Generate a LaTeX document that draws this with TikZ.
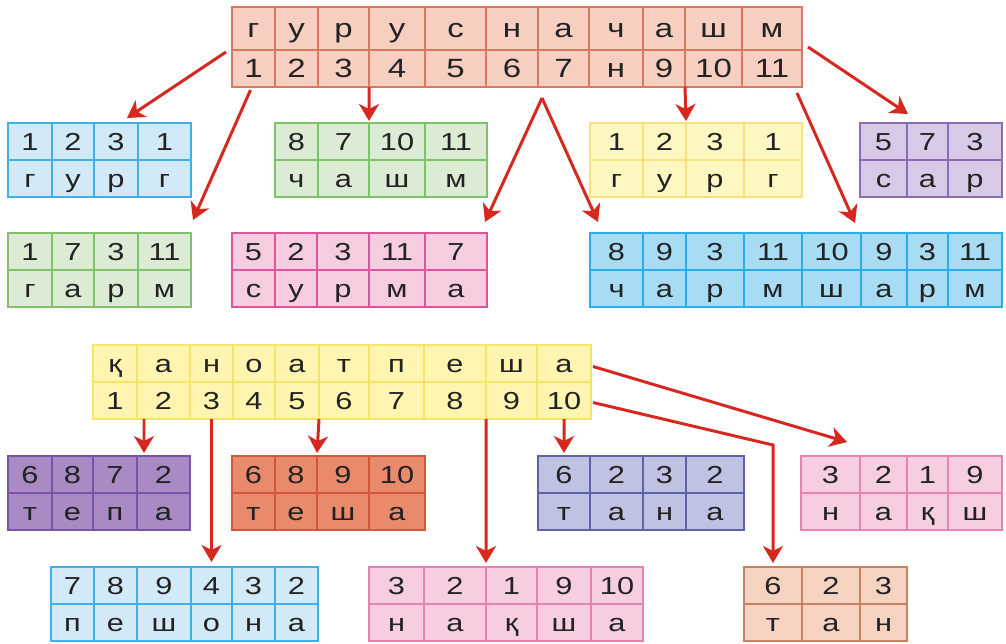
\documentclass[tikz,border=0pt]{standalone}
\usepackage{fontspec}
\setmainfont{Liberation Sans}[FakeStretch=1.25]
\usetikzlibrary{arrows.meta}

\definecolor{topfill}{HTML}{F6CFC0}\definecolor{topline}{HTML}{DA7763}
\definecolor{lblue}{HTML}{D2EAF8}\definecolor{lblueline}{HTML}{3FB1E6}
\definecolor{lgreen}{HTML}{DCEBD4}\definecolor{lgreenline}{HTML}{7CC36A}
\definecolor{lyellow}{HTML}{FFF7C2}\definecolor{lyellowline}{HTML}{F5E27A}
\definecolor{lpurple}{HTML}{D7CAE6}\definecolor{lpurpleline}{HTML}{8E6BB5}
\definecolor{lpink}{HTML}{F6CCE0}\definecolor{lpinkline}{HTML}{E0559A}
\definecolor{blue}{HTML}{A8DBF4}\definecolor{blueline}{HTML}{2BAEE6}
\definecolor{yellow}{HTML}{FFF4B0}\definecolor{yellowline}{HTML}{F8E36B}
\definecolor{dpurple}{HTML}{A98AC4}\definecolor{dpurpleline}{HTML}{7A52A8}
\definecolor{orange}{HTML}{E98A6C}\definecolor{orangeline}{HTML}{D2583A}
\definecolor{slate}{HTML}{BFC2E2}\definecolor{slateline}{HTML}{5D63A8}
\definecolor{pink}{HTML}{F7CEE1}\definecolor{pinkline}{HTML}{E783B3}
\definecolor{peach}{HTML}{F6D3C0}\definecolor{peachline}{HTML}{C98062}
\definecolor{textgray}{HTML}{222222}
\definecolor{arrowred}{HTML}{D7281F}

\tikzset{
  cell/.style={rectangle, inner sep=0pt, outer sep=0pt, line width=0.8pt,
    minimum height=37*0.02cm, text height=10pt, text depth=0pt,
    text=textgray, font=\fontsize{14}{16}\selectfont},
  arr/.style={draw=arrowred, line width=1.7pt,
    -{Stealth[length=0.34cm, width=0.4cm, inset=0.1cm]}}
}

% [top row options]{name}{left}{top}{fill}{line}{width/top/bottom, ...}
\newcommand\wordtab[7][]{%
  \node[inner sep=0pt, outer sep=0pt, minimum size=0pt] (#2-1-0) at (#3,#4) {};
  \foreach \w/\a/\b [count=\i, remember=\i as \j (initially 0)] in {#7} {
    \node[cell, fill=#5, draw=#6, minimum width=\w*0.02cm, anchor=north west, #1]
      (#2-1-\i) at (#2-1-\j.north east) {\a};
    \node[cell, fill=#5, draw=#6, minimum width=\w*0.02cm, anchor=north]
      (#2-2-\i) at (#2-1-\i.south) {\b};
  }%
}

\begin{document}
\begin{tikzpicture}[x=0.02cm, y=-0.02cm]
  \useasboundingbox (0,0) rectangle (1006,643);

  \begin{scope}[cell/.append style={font=\fontsize{15}{17}\selectfont, text height=10.7pt}]
    \wordtab[minimum height=43*0.02cm]{top}{232}{7}{topfill}{topline}
      {43/г/1, 43/у/2, 51/р/3, 56/у/4, 61/с/5, 52/н/6, 51/а/7, 54/ч/н, 42/а/9, 57/ш/10, 60/м/11}
  \end{scope}
  \wordtab{b1}{8}{123}{lblue}{lblueline}{44/1/г, 42/2/у, 44/3/р, 53/1/г}
  \wordtab{g1}{275}{123}{lgreen}{lgreenline}{43/8/ч, 51/7/а, 56/10/ш, 62/11/м}
  \wordtab{y1}{590}{123}{lyellow}{lyellowline}{53/1/г, 43/2/у, 58/3/р, 58/1/г}
  \wordtab{v1}{860}{123}{lpurple}{lpurpleline}{47/5/с, 41/7/а, 54/3/р}
  \wordtab{g2}{8}{233}{lgreen}{lgreenline}{44/1/г, 42/7/а, 44/3/р, 53/11/м}
  \wordtab{p1}{232}{233}{lpink}{lpinkline}{43/5/с, 42/2/у, 52/3/р, 56/11/м, 62/7/а}
  \wordtab{b2}{590}{233}{blue}{blueline}
    {53/8/ч, 43/9/а, 58/3/р, 58/11/м, 59/10/ш, 46/9/а, 41/3/р, 54/11/м}

  \wordtab{bot}{93}{345}{yellow}{yellowline}
    {44/қ/1, 53/а/2, 43/н/3, 42/о/4, 44/а/5, 50/т/6, 55/п/7, 62/е/8, 51/ш/9, 54/а/10}
  \wordtab{v2}{8}{456}{dpurple}{dpurpleline}{44/6/т, 41/8/е, 44/7/п, 53/2/а}
  \wordtab{o1}{232}{456}{orange}{orangeline}{43/6/т, 42/8/е, 52/9/ш, 56/10/а}
  \wordtab{s1}{538}{456}{slate}{slateline}{52/6/т, 53/2/а, 43/3/н, 58/2/а}
  \wordtab{p2}{801}{456}{pink}{pinkline}{59/3/н, 47/2/а, 41/1/қ, 54/9/ш}
  \wordtab{b3}{51}{567}{lblue}{lblueline}{43/7/п, 43/8/е, 54/9/ш, 41/4/о, 43/3/н, 43/2/а}
  \wordtab{p3}{369}{567}{pink}{pinkline}{55/3/н, 62/2/а, 51/1/қ, 54/9/ш, 52/10/а}
  \wordtab{c1}{744}{567}{peach}{peachline}{58/6/т, 58/2/а, 47/3/н}

  \draw[arr] ([shift={(-6,2)}]top-1-1.south west) -- ([shift={(-11,-5)}]b1-1-3.north east);
  \draw[arr] ([shift={(-3,3)}]top-2-1.south) -- ([shift={(2,-13)}]g2-1-4.north east);
  \draw[arr] (top-2-3.south east) -- ([shift={(0,-2)}]g1-1-2.north east);
  \coordinate (split) at ([shift={(4,11)}]top-2-6.south east);
  \draw[arr] (split) -- ([shift={(-2,-11)}]p1-1-5.north east);
  \draw[arr] (split) -- ([shift={(8,-11)}]b2-1-1.north west);
  \draw[arr] (top-2-9.south east) -- ([shift={(0,-2)}]y1-1-2.north east);
  \draw[arr] ([shift={(-5,6)}]top-2-11.south east) -- ([shift={(-6,-10)}]b2-1-5.north east);
  \draw[arr] ([shift={(6,-3)}]top-1-11.south east) -- ([shift={(1,-9)}]v1-1-1.north east);

  \draw[arr] ([shift={(7,0)}]bot-2-2.south west) -- ([shift={(7,-3)}]v2-1-4.north west);
  \draw[arr] (bot-2-3.south) -- ([shift={(0,-5)}]b3-1-4.north);
  \draw[arr] (bot-2-5.south east) -- ([shift={(0,-3)}]o1-1-2.north east);
  \draw[arr] (bot-2-8.south east) -- ([shift={(0,-4)}]p3-1-2.north east);
  \draw[arr] (bot-2-10.south) -- ([shift={(0,-3)}]s1-1-1.north);
  \draw[arr] ([shift={(2,3)}]bot-1-10.east) -- ([shift={(-13,-14)}]p2-1-1.north east);
  \coordinate (bend) at (c1-1-1.north |- s1-1-1.north);
  \draw[arr] ([shift={(2,2)}]bot-2-10.east) -- ([shift={(0,-11)}]bend)
    -- ([shift={(0,-4)}]c1-1-1.north);
\end{tikzpicture}
\end{document}
